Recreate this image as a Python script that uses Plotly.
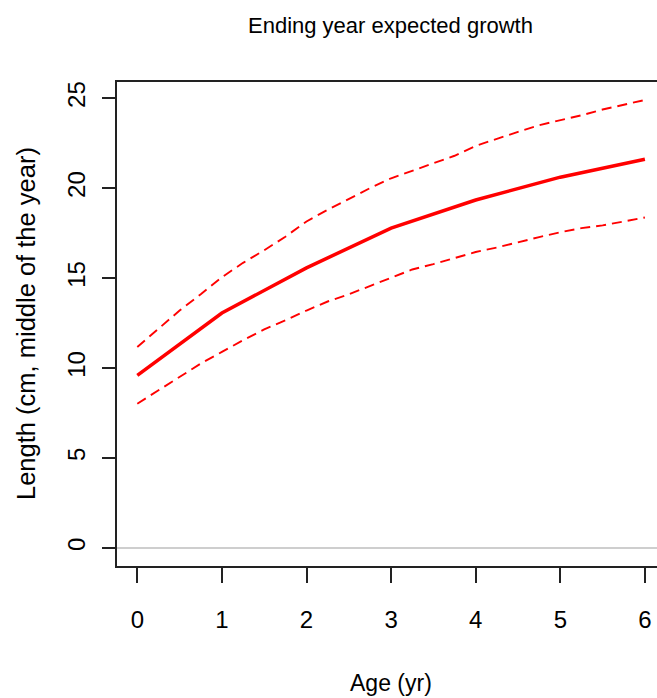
import plotly.graph_objects as go

# Data
ages = [0, 1, 2, 3, 4, 5, 6]
length_mid = [9.59, 13.06, 15.57, 17.78, 19.34, 20.61, 21.61]

ages_fine = [0, 0.25, 0.5, 0.75, 1.0, 1.25, 1.5, 1.75, 2.0, 2.25, 2.5, 2.75, 3.0,
             3.25, 3.5, 3.75, 4.0, 4.25, 4.5, 4.75, 5.0, 5.25, 5.5, 5.75, 6.0]
upper = [11.17, 12.2, 13.2, 14.1, 15.05, 15.85, 16.55, 17.3, 18.15, 18.8, 19.4, 20.0, 20.55,
         20.97, 21.4, 21.8, 22.35, 22.75, 23.13, 23.5, 23.76, 24.05, 24.37, 24.65, 24.9]
lower = [8.02, 8.75, 9.5, 10.25, 10.9, 11.55, 12.15, 12.65, 13.2, 13.7, 14.1, 14.55, 15.0,
         15.48, 15.78, 16.1, 16.45, 16.7, 17.0, 17.28, 17.55, 17.78, 17.93, 18.15, 18.37]

x_ticks = [0, 1, 2, 3, 4, 5, 6]
y_ticks = [0, 5, 10, 15, 20, 25]

title_text = "Ending year expected growth"
x_title = "Age (yr)"
y_title = "Length (cm, middle of the year)"

FONT = "Liberation Sans, Arial, sans-serif"
RED = "#FF0000"

fig = go.Figure()
fig.add_trace(go.Scatter(x=ages_fine, y=upper, mode="lines",
                         line=dict(color=RED, width=1.9, dash="10px,6px"),
                         showlegend=False, hoverinfo="skip"))
fig.add_trace(go.Scatter(x=ages_fine, y=lower, mode="lines",
                         line=dict(color=RED, width=1.9, dash="10px,6px"),
                         showlegend=False, hoverinfo="skip"))
fig.add_trace(go.Scatter(x=ages, y=length_mid, mode="lines",
                         line=dict(color=RED, width=3.5),
                         showlegend=False, hoverinfo="skip"))

fig.add_shape(type="line", xref="paper", yref="y", x0=0, x1=1, y0=0, y1=0,
              line=dict(color="#BEBEBE", width=1.5), layer="below")

fig.update_layout(
    width=657, height=698, autosize=False,
    margin=dict(l=117, r=0, t=82, b=132, pad=0),
    paper_bgcolor="white", plot_bgcolor="white",
    font=dict(family=FONT, color="black"),
    xaxis=dict(range=[-0.24, 6.143], tickvals=x_ticks, ticktext=[str(v) for v in x_ticks],
               showgrid=False, zeroline=False, showline=True, linecolor="#222222",
               linewidth=1.5, mirror=True, ticks="outside", ticklen=15, tickwidth=1.5,
               tickcolor="#222222", tickfont=dict(size=24, family=FONT),
               ticklabelstandoff=16, fixedrange=True),
    yaxis=dict(range=[-1.0, 25.9], tickvals=y_ticks, ticktext=[str(v) for v in y_ticks],
               showgrid=False, zeroline=False, showline=True, linecolor="#222222",
               linewidth=1.5, ticks="outside", ticklen=13, tickwidth=1.5,
               tickcolor="#222222", tickangle=-90, tickfont=dict(size=24, family=FONT),
               ticklabelstandoff=8, fixedrange=True),
    annotations=[
        dict(text=title_text, xref="paper", yref="paper", x=0.507, y=(566 - 26) / 484,
             xanchor="center", yanchor="middle", showarrow=False,
             font=dict(size=22, family=FONT)),
        dict(text=x_title, xref="paper", yref="paper", x=0.507, y=(566 - 683) / 484,
             xanchor="center", yanchor="middle", showarrow=False,
             font=dict(size=23, family=FONT)),
        dict(text=y_title, xref="paper", yref="paper", x=(26 - 117) / 540, y=0.5,
             xanchor="center", yanchor="middle", textangle=-90, showarrow=False,
             font=dict(size=25.5, family=FONT)),
    ],
)

fig.write_html("out.html")
